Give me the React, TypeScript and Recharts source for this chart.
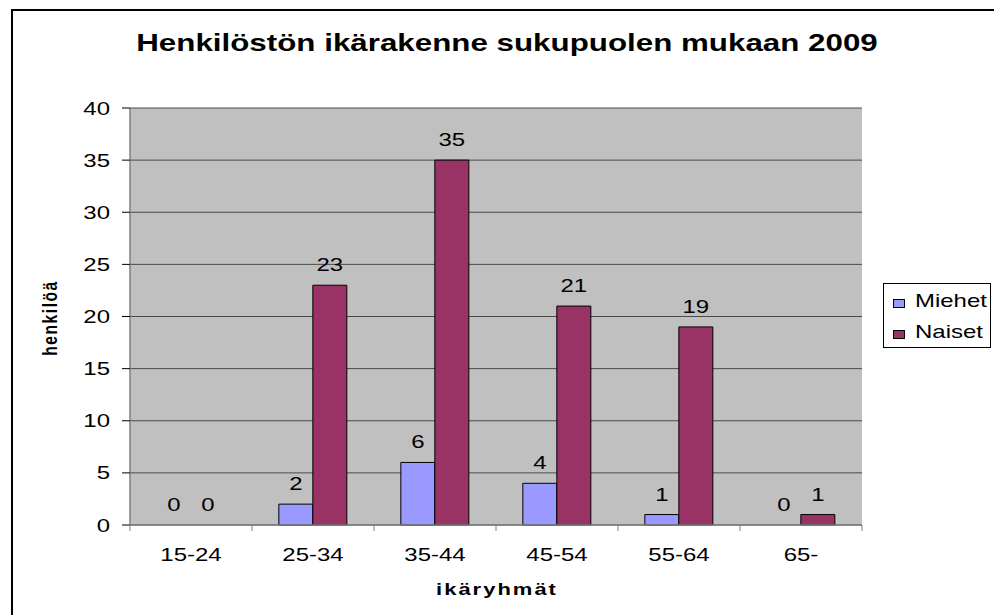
import { Bar, BarChart, CartesianGrid, Cell, LabelList, Legend, XAxis, YAxis } from "recharts";

const categories = ["15-24", "25-34", "35-44", "45-54", "55-64", "65-"];
const miehet = [0, 2, 6, 4, 1, 0];
const naiset = [0, 23, 35, 21, 19, 1];
const yTicks = [0, 5, 10, 15, 20, 25, 30, 35, 40];
const seriesNames = ["Miehet", "Naiset"];

const data = categories.map((group, i) => ({
  group,
  miehet: miehet[i],
  naiset: naiset[i],
}));

const FONT = '"Liberation Sans", Arial, sans-serif';
const W = 994;
const H = 615;
const margin = { top: 108, right: 132, bottom: 60, left: 70 };
const Y_AXIS_W = 60;
const BAND = (W - margin.left - Y_AXIS_W - margin.right) / categories.length;
// the reference is stretched sideways, so every text is too
const SX = 1.333;

const MIEHET = "#9999FF";
const NAISET = "#993366";
const AXIS = "#808080";

type STextProps = {
  x: number;
  y: number;
  anchor?: "start" | "middle" | "end";
  size: number;
  bold?: boolean;
  spacing?: number;
  rotate?: number;
  children: any;
};

function SText({ x, y, anchor = "start", size, bold, spacing = 0, rotate = 0, children }: STextProps) {
  return (
    <text
      transform={`translate(${x},${y}) scale(${SX},1)${rotate ? ` rotate(${rotate})` : ""}`}
      textAnchor={anchor}
      fontFamily={FONT}
      fontSize={size}
      fontWeight={bold ? "bold" : "normal"}
      fill="#000"
      style={spacing ? { letterSpacing: spacing } : undefined}
    >
      {children}
    </text>
  );
}

function XTick(props: any) {
  const { x, y, payload, index } = props;
  const last = index === categories.length - 1;
  return (
    <g>
      <line x1={x - BAND / 2} x2={x - BAND / 2} y1={y} y2={y + 6} stroke={AXIS} />
      {last && <line x1={x + BAND / 2} x2={x + BAND / 2} y1={y} y2={y + 6} stroke={AXIS} />}
      <SText x={x} y={y + 36} anchor="middle" size={18}>
        {payload.value}
      </SText>
    </g>
  );
}

function YTick(props: any) {
  const { x, y, payload } = props;
  return (
    <SText x={x} y={y + 6.5} anchor="end" size={18}>
      {payload.value}
    </SText>
  );
}

function BarValue(props: any) {
  const { x, y, width, value } = props;
  return (
    <SText x={Number(x) + Number(width) / 2} y={Number(y) - 14} anchor="middle" size={18}>
      {value}
    </SText>
  );
}

function LegendBox() {
  const colors = [MIEHET, NAISET];
  return (
    <svg width={108} height={65} style={{ display: "block" }}>
      <rect x={0.5} y={0.5} width={107} height={64} fill="#fff" stroke="#000" />
      {seriesNames.map((name, i) => (
        <g key={name}>
          <rect x={10.5} y={16.5 + i * 31} width={11} height={8} fill={colors[i]} stroke="#000" />
          <SText x={32} y={24 + i * 31} size={18}>
            {name}
          </SText>
        </g>
      ))}
    </svg>
  );
}

// zero bars get a hair of height so their "0" label still shows; the hair itself is hidden
const zeroHair = (value: any) => (Number(value) === 0 ? 0.01 : 0);

export default function App() {
  return (
    <div
      style={{
        position: "absolute",
        left: 0,
        top: 0,
        width: W,
        height: H,
        overflow: "hidden",
        background: "#fff",
      }}
    >
      <svg width={W} height={H} style={{ position: "absolute", left: 0, top: 0 }}>
        <rect x={12} y={10} width={1100} height={800} fill="none" stroke="#000" strokeWidth={2} />
        <SText x={507} y={51} anchor="middle" size={23.5} bold>
          Henkilöstön ikärakenne sukupuolen mukaan 2009
        </SText>
      </svg>
      <div style={{ position: "absolute", left: 0, top: 0 }}>
        <BarChart
          width={W}
          height={H}
          data={data}
          margin={margin}
          barCategoryGap="22%"
          barGap={0}
        >
          <CartesianGrid vertical={false} stroke="#4a4a4a" fill="#C0C0C0" fillOpacity={1} />
          <XAxis
            dataKey="group"
            height={30}
            tickSize={0}
            tickMargin={0}
            tickLine={false}
            axisLine={{ stroke: AXIS, strokeWidth: 1.5 }}
            tick={<XTick />}
            interval={0}
            label={{
              content: () => (
                <SText x={497} y={595} anchor="middle" size={16.5} bold spacing={1.5}>
                  ikäryhmät
                </SText>
              ),
            }}
          />
          <YAxis
            width={Y_AXIS_W}
            domain={[0, 40]}
            ticks={yTicks}
            interval={0}
            tickSize={8}
            tickMargin={12}
            tickLine={{ stroke: "#000" }}
            axisLine={{ stroke: AXIS, strokeWidth: 1.5 }}
            tick={<YTick />}
            label={{
              content: () => (
                <SText x={57} y={318} anchor="middle" size={15.5} bold spacing={1.6} rotate={-90}>
                  henkilöä
                </SText>
              ),
            }}
          />
          <YAxis
            yAxisId="frame"
            orientation="right"
            width={0}
            tick={false}
            tickLine={false}
            axisLine={{ stroke: AXIS, strokeWidth: 1.5 }}
          />
          <Legend
            layout="vertical"
            align="center"
            verticalAlign="middle"
            wrapperStyle={{ left: 883, top: 283, width: 108, height: 65 }}
            content={() => <LegendBox />}
          />
          <Bar
            dataKey="miehet"
            name="Miehet"
            fill={MIEHET}
            stroke="#000"
            strokeWidth={1}
            minPointSize={zeroHair}
            isAnimationActive={false}
          >
            {miehet.map((v, i) => (
              <Cell key={i} fill={v === 0 ? "none" : MIEHET} stroke={v === 0 ? "none" : "#000"} />
            ))}
            <LabelList dataKey="miehet" content={<BarValue />} />
          </Bar>
          <Bar
            dataKey="naiset"
            name="Naiset"
            fill={NAISET}
            stroke="#000"
            strokeWidth={1}
            minPointSize={zeroHair}
            isAnimationActive={false}
          >
            {naiset.map((v, i) => (
              <Cell key={i} fill={v === 0 ? "none" : NAISET} stroke={v === 0 ? "none" : "#000"} />
            ))}
            <LabelList dataKey="naiset" content={<BarValue />} />
          </Bar>
        </BarChart>
      </div>
    </div>
  );
}
